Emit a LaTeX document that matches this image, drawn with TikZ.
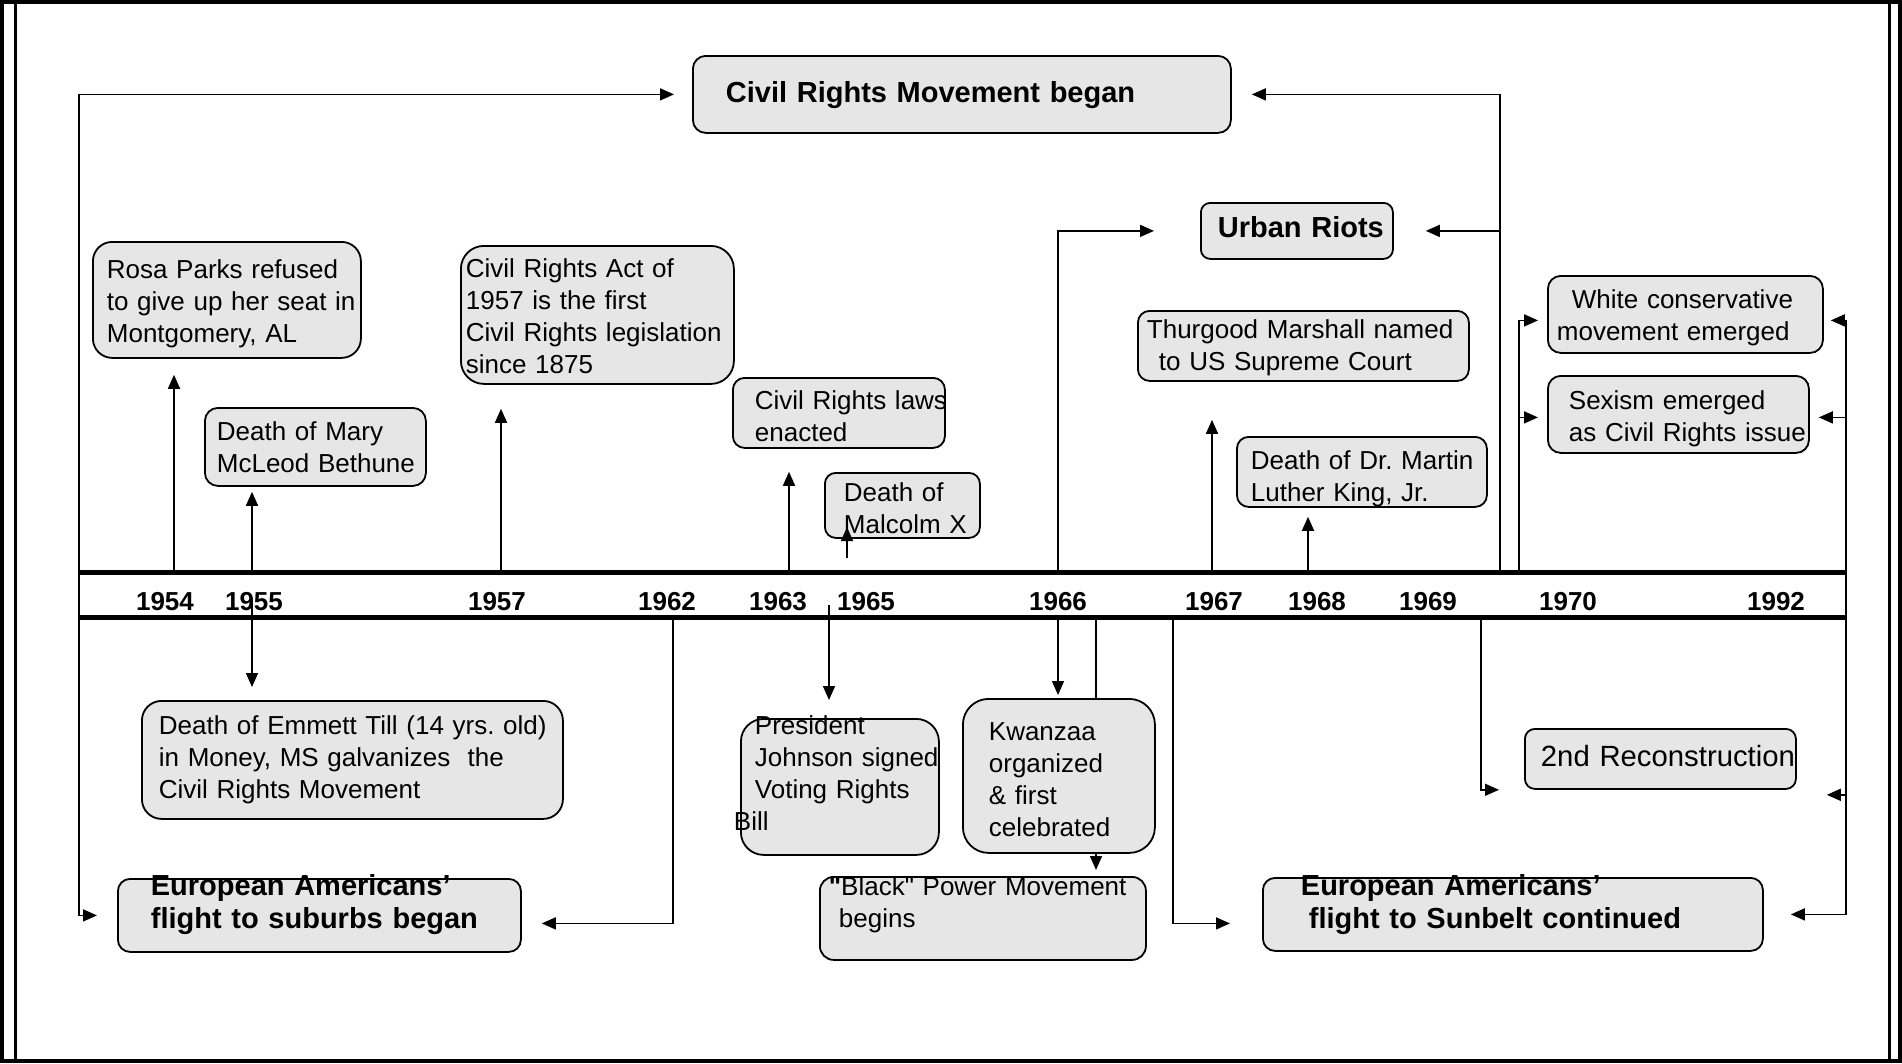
\documentclass[tikz,border=0pt]{standalone}
\usepackage{fontspec}
\setmainfont{Liberation Sans}
\newfontfamily\plainfont{Liberation Sans}
\usetikzlibrary{arrows.meta}
\definecolor{boxgray}{RGB}{230,230,230}
\frenchspacing
\newcommand\evtfont{\fontsize{26}{31.8}\selectfont}
\newcommand\hdfont{\fontsize{29}{33}\selectfont\bfseries}
\newcommand\yrfont{\fontsize{26}{30}\selectfont\bfseries}
\newcommand\boxindent[1]{\raggedright\leftskip=#1\relax
  \rightskip=0pt plus 1fil minus 40pt\relax}

\begin{document}
\begin{tikzpicture}[x=1pt, y=-1pt,
        evt/.style={draw, line width=1.8pt, fill=boxgray, anchor=north west,
            inner sep=0pt, font=\evtfont},
        hd/.style={evt, font=\hdfont},
        sz/.style n args={4}{minimum width=#1, text width=#1, minimum height=#2,
            text height=#4, text depth=#2-#4, rounded corners=#2/6,
            execute at begin node={\boxindent{#3}}},
        yr/.style={font=\yrfont, inner sep=0pt, anchor=base},
        band/.style={line width=5pt},
        line/.style={-{Triangle[length=14pt,width=12pt]}, line width=1.6pt}]
    \useasboundingbox (0,0) rectangle (1902,1063);
    \draw[line width=4pt] (2,2) rectangle (1900,1061);
    \draw[line width=3pt] (15,2) -- (15,1061) (1889,2) -- (1889,1061);

    % time line
    \draw[band] (78,572) -- (1846,572) (78,617) -- (1846,617);
    \foreach \yr/\x in {1954/165, 1955/254, 1957/497, 1962/667, 1963/778, 1965/866,
            1966/1058, 1967/1214, 1968/1317, 1969/1428, 1970/1568, 1992/1776}
        \node[yr] (y\yr) at (\x,610) {\yr};

    % events above the line
    \node[hd, sz={538pt}{77pt}{33pt}{47pt}] (crm) at (692,55) {Civil Rights Movement began};
    \node[hd, sz={192pt}{56pt}{17pt}{35pt}] (riots) at (1200,202) {Urban Riots};
    \node[evt, sz={268pt}{116pt}{14pt}{37pt}] (rosa) at (92,241)
        {Rosa Parks refused\\ to give up her seat in\\ Montgomery, AL};
    \node[evt, sz={221pt}{78pt}{12pt}{33pt}] (mary) at (204,407) {Death of Mary\\ McLeod Bethune};
    \node[evt, sz={273pt}{138pt}{5pt}{32pt}] (act) at (460,245)
        {Civil Rights Act of\\ 1957 is the first\\ Civil Rights legislation\\ since 1875};
    \node[evt, sz={212pt}{70pt}{22pt}{32pt}] (laws) at (732,377) {Civil Rights laws\\ enacted};
    \node[evt, sz={155pt}{65pt}{19pt}{28.5pt}] (malcolm) at (824,472) {Death of\\ Malcolm X};
    \node[evt, sz={331pt}{70pt}{9pt}{28pt}] (marshall) at (1137,310)
        {Thurgood Marshall named\\ \hspace*{12pt}to US Supreme Court};
    \node[evt, sz={250pt}{70pt}{14pt}{32.5pt}] (king) at (1236,436)
        {Death of Dr. Martin\\ Luther King, Jr.};
    \node[evt, sz={275pt}{77pt}{9pt}{33pt}] (conserv) at (1547,275)
        {\hspace*{15pt}White conservative\\ movement emerged};
    \node[evt, sz={261pt}{77pt}{21pt}{34pt}] (sexism) at (1547,375)
        {Sexism emerged\\ as Civil Rights issue};

    % events below the line
    \node[evt, sz={271pt}{60pt}{16pt}{38pt}, font={\fontsize{29.3}{34}\selectfont}] (recon)
        at (1524,728) {2nd Reconstruction};
    \node[evt, sz={421pt}{118pt}{17pt}{34pt}] (till) at (141,700)
        {Death of Emmett Till (14 yrs. old)\\ in Money, MS galvanizes~ the\\ Civil Rights Movement};
    \node[evt, sz={198pt}{136pt}{14pt}{16pt}] (johnson) at (740,718)
        {President\\ Johnson signed\\ Voting Rights\\ \hspace*{-21pt}Bill};
    \node[evt, sz={192pt}{154pt}{26pt}{42pt}] (kwanzaa) at (962,698)
        {Kwanzaa\\ organized\\ \& first\\ celebrated};
    \node[evt, sz={326pt}{83pt}{9pt}{19pt}] (power) at (819,876)
        {{\plainfont\bfseries"}{\plainfont Black"} Power Movement\\ \hspace*{10pt}begins};
    \node[hd, sz={403pt}{73pt}{33pt}{17pt}] (suburbs) at (117,878)
        {European Americans'\\ flight to suburbs began};
    \node[hd, sz={500pt}{73pt}{38pt}{18pt}] (sunbelt) at (1262,877)
        {European Americans'\\ \hspace*{8pt}flight to Sunbelt continued};

    % connectors
    \coordinate (lspine) at (79,594);
    \coordinate (rspine) at (1846,594);
    \coordinate (a54) at (174,572);
    \coordinate (a55) at (252,572);
    \coordinate (b55) at (252,600);
    \coordinate (a57) at (501,572);
    \coordinate (b62) at (673,617);
    \coordinate (a63) at (789,572);
    \coordinate (a65) at (847,558);
    \coordinate (mtip) at (847,527);
    \coordinate (b65) at (829,605);
    \coordinate (a66) at (1058,572);
    \coordinate (b66) at (1058,617);
    \coordinate (c66) at (1096,617);
    \coordinate (b67) at (1173,617);
    \coordinate (a67) at (1212,572);
    \coordinate (a68) at (1308,572);
    \coordinate (b69) at (1481,617);
    \coordinate (a69) at (1500,572);
    \coordinate (a70) at (1519,572);

    \draw[line, shorten >=18pt] (lspine) |- (crm.west);
    \draw[line, shorten >=20pt] (lspine) |- (suburbs.west);
    \draw[line, shorten >=16pt] (a54) -- (a54 |- rosa.south);
    \draw[line, shorten >=5pt] (a55) -- (a55 |- mary.south);
    \draw[line, shorten >=13pt] (b55) -- (b55 |- till.north);
    \draw[line, shorten >=24pt] (a57) -- (a57 |- act.south);
    \draw[line, shorten >=20pt] (b62) |- ([yshift=-8pt]suburbs.east);
    \draw[line, shorten >=23pt] (a63) -- (a63 |- laws.south);
    \draw[line] (a65) -- (mtip);
    \draw[line, shorten >=18pt] (b65) -- (b65 |- johnson.north);
    \draw[line, shorten >=46pt] (a66) |- (riots.west);
    \draw[line, shorten >=3pt] (b66) -- (b66 |- kwanzaa.north);
    \draw[line width=1.6pt] (c66) -- (c66 |- kwanzaa.north);
    \draw[line, shorten >=6pt] (c66 |- kwanzaa.south) -- (c66 |- power.north);
    \draw[line, shorten >=32pt] (b67) |- ([yshift=-9pt]sunbelt.west);
    \draw[line, shorten >=38pt] (a67) -- (a67 |- marshall.south);
    \draw[line, shorten >=9pt] (a68) -- (a68 |- king.south);
    \draw[line, shorten >=25pt] (b69) |- (recon.south west);
    \draw[line, shorten >=20pt] (a69) |- (crm.east);
    \draw[line, shorten >=32pt] (a69) |- (riots.east);
    \draw[line, shorten >=9pt] (a70) |- ([yshift=-6pt]conserv.west);
    \draw[line, shorten >=9pt] (a70) |- ([yshift=-3pt]sexism.west);
    \draw[line, shorten >=7pt] (rspine) |- ([yshift=-6pt]conserv.east);
    \draw[line, shorten >=9pt] (rspine) |- ([yshift=-3pt]sexism.east);
    \draw[line, shorten >=30pt] (rspine) |- ([yshift=-5pt]recon.south east);
    \draw[line, shorten >=27pt] (rspine) |- (sunbelt.east);
\end{tikzpicture}
\end{document}
